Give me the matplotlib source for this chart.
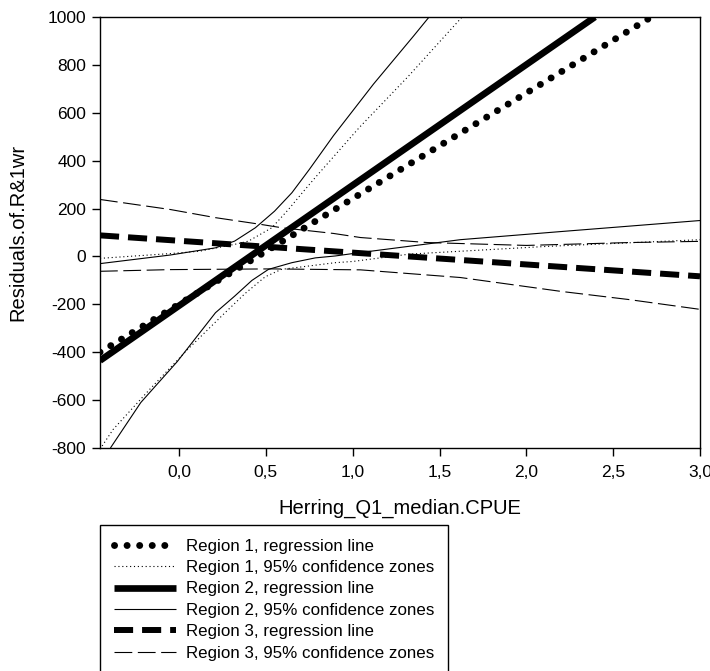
import numpy as np
import matplotlib.pyplot as plt

plt.rcParams['font.family'] = ['Liberation Sans', 'DejaVu Sans']

# ticks as printed in the original (comma decimals)
x_ticks = [0.0, 0.5, 1.0, 1.5, 2.0, 2.5, 3.0]
x_tick_labels = ["0,0", "0,5", "1,0", "1,5", "2,0", "2,5", "3,0"]
y_ticks = [-800, -600, -400, -200, 0, 200, 400, 600, 800, 1000]
y_tick_labels = ["-800", "-600", "-400", "-200", "0", "200", "400", "600", "800", "1000"]

# Region 1
r1_line_x = [-0.455, 2.72]
r1_line_y = [-400, 1000]
r1_up_x = [-0.455, -0.05, 0.12, 0.33, 0.40, 0.535, 0.63, 0.71, 0.785, 1.04, 1.32, 1.63]
r1_up_y = [-8, 12, 22, 52, 64, 120, 196, 266, 330, 540, 752, 1000]
r1_lo_x = [-0.455, -0.38, -0.17, 0.05, 0.265, 0.38, 0.496, 0.59, 0.746, 0.90, 1.0, 1.33, 2.12, 3.0]
r1_lo_y = [-805, -723, -556, -388, -235, -155, -85, -54, -40, -26, -21, 10, 42, 70]

# Region 2
r2_line_x = [-0.455, 2.395]
r2_line_y = [-435, 1000]
r2_up_x = [-0.455, -0.05, 0.21, 0.32, 0.44, 0.55, 0.65, 0.75, 0.89, 1.12, 1.35, 1.44]
r2_up_y = [-30, 6, 36, 64, 120, 189, 266, 363, 505, 720, 920, 1000]
r2_lo_x = [-0.395, -0.22, -0.01, 0.21, 0.32, 0.42, 0.515, 0.65, 0.785, 0.90, 1.0, 1.62, 2.20, 3.0]
r2_lo_y = [-800, -610, -439, -235, -166, -100, -54, -26, -6, 2, 12, 70, 104, 150]

# Region 3
r3_line_x = [-0.455, 3.0]
r3_line_y = [88, -83]
r3_up_x = [-0.455, -0.05, 0.21, 0.47, 0.59, 0.89, 1.045, 1.43, 2.0, 2.59, 3.0]
r3_up_y = [238, 196, 162, 134, 120, 96, 79, 58, 46, 58, 63]
r3_lo_x = [-0.455, -0.05, 0.53, 1.045, 1.62, 2.20, 2.59, 3.0]
r3_lo_y = [-62, -55, -52, -56, -88, -146, -180, -221]

W, H = 710, 671
fig = plt.figure(figsize=(W / 100, H / 100), dpi=100)
ax = fig.add_axes([100 / W, 1 - 448 / H, 600 / W, 431 / H])

k = dict(color="black", solid_capstyle="butt")
h1, = ax.plot(r1_line_x, r1_line_y, lw=5, linestyle=(0, (0.01, 1.8)),
              dash_capstyle="round", color="black", label="Region 1, regression line")
h2, = ax.plot(r1_up_x, r1_up_y, lw=0.8, linestyle=(0, (1, 2.5)), color="black",
              label="Region 1, 95% confidence zones")
ax.plot(r1_lo_x, r1_lo_y, lw=0.8, linestyle=(0, (1, 2.5)), color="black")
h3, = ax.plot(r2_line_x, r2_line_y, lw=4.8, label="Region 2, regression line", **k)
h4, = ax.plot(r2_up_x, r2_up_y, lw=0.8, label="Region 2, 95% confidence zones", **k)
ax.plot(r2_lo_x, r2_lo_y, lw=0.8, **k)
h5, = ax.plot(r3_line_x, r3_line_y, lw=4.3, linestyle=(0, (3.2, 1.5)),
              label="Region 3, regression line", **k)
h6, = ax.plot(r3_up_x, r3_up_y, lw=0.8, linestyle=(0, (16, 5)),
              label="Region 3, 95% confidence zones", **k)
ax.plot(r3_lo_x, r3_lo_y, lw=0.8, linestyle=(0, (16, 5)), **k)

ax.set_xlim(-0.455, 3.0)
ax.set_ylim(-800, 1000)
ax.set_xticks(x_ticks)
ax.set_xticklabels(x_tick_labels)
ax.set_yticks(y_ticks)
ax.set_yticklabels(y_tick_labels)
ax.tick_params(direction="out", length=6, width=1, labelsize=12.5, pad=4)
ax.tick_params(axis="x", pad=6)
for s in ax.spines.values():
    s.set_linewidth(1)

ax.set_xlabel("Herring_Q1_median.CPUE", fontsize=14.5, va="center")
ax.xaxis.set_label_coords(0.5, (448 - 508) / 431)
ax.set_ylabel("Residuals.of.R&1wr", fontsize=14.5, va="center")
ax.yaxis.set_label_coords((18 - 100) / 600, 0.5)

leg = fig.legend(handles=[h1, h2, h3, h4, h5, h6], loc="upper left",
                 bbox_to_anchor=(100 / W, 1 - 525 / H), fontsize=12.2,
                 frameon=True, fancybox=False, edgecolor="black", framealpha=1,
                 borderpad=0.8, labelspacing=0.38, handlelength=3.7,
                 handletextpad=0.6, borderaxespad=0)
leg.get_frame().set_linewidth(1)

fig.savefig("out.png", dpi=100)
